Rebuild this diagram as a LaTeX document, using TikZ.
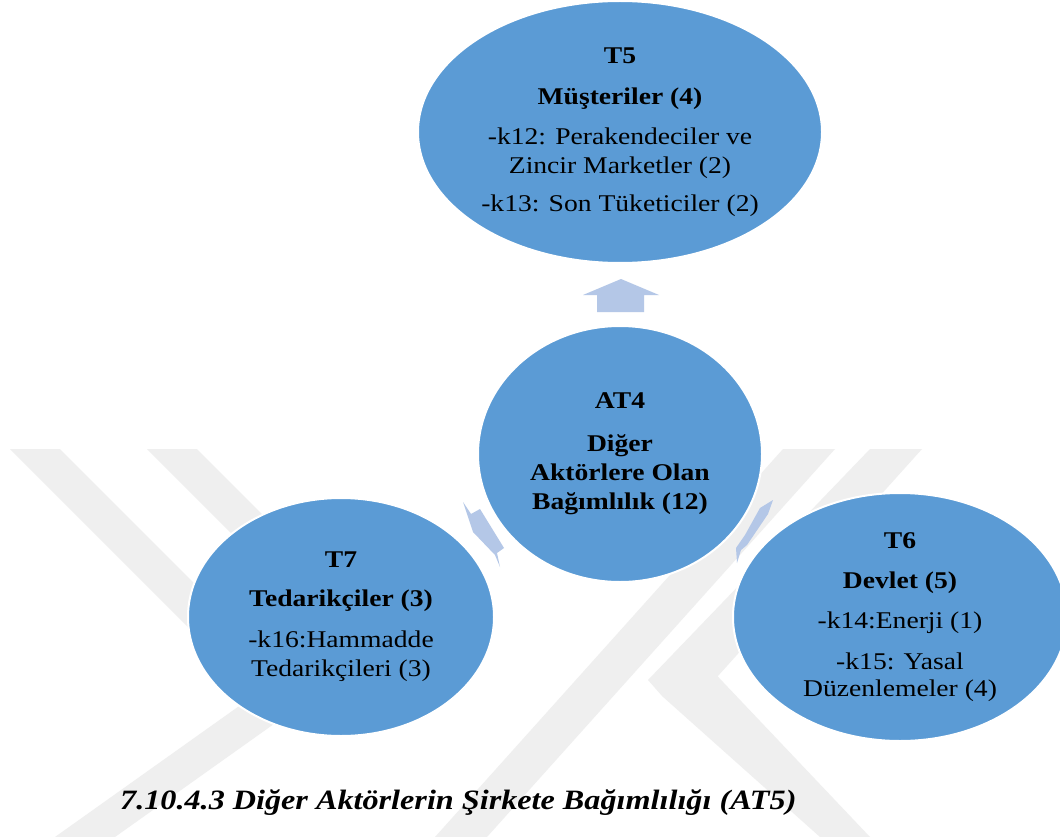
\documentclass[tikz,border=0pt]{standalone}
\usepackage{fontspec}
\setmainfont{Liberation Serif}[FakeStretch=1.15]
\usetikzlibrary{shapes.geometric}
\definecolor{bubblefill}{HTML}{5B9BD5}
\definecolor{arrowfill}{HTML}{B4C7E7}
\definecolor{markgray}{HTML}{EFEFEF}

\begin{document}
\begin{tikzpicture}[x=1pt,y=-1pt,
  bubble/.style={ellipse, fill=bubblefill, draw=white, line width=2pt, inner sep=0pt},
  bubbletext/.style={align=center, font=\fontsize{24}{29}\selectfont, text=black, inner sep=0pt},
  band/.style={fill=markgray},
  blockarrow/.style={fill=arrowfill}
]
\useasboundingbox[fill=white] (0,0) rectangle (1060,837);

% faint background emblem made of diagonal bands
\fill[band] (10,449) -- (60,449) -- (330,719) -- (280,719) -- cycle;
\fill[band] (147,449) -- (197,449) -- (425,677) -- (375,677) -- cycle;
\fill[band] (55,837) -- (115,837) -- (392,640) -- (332,640) -- cycle;
\fill[band] (783,449) -- (835,449) -- (487,837) -- (435,837) -- cycle;
\fill[band] (870,449) -- (922,449) -- (700,696) -- (662,696) -- (648,680) -- cycle;
\fill[band] (662,696) -- (700,696) -- (705,663) -- (870,837) -- (820,837) -- cycle;

% block arrows between the bubbles
\fill[blockarrow] (597,312) -- (644,312) -- (644,295) -- (659,295) -- (621,279)
  -- (583,295) -- (597,295) -- cycle;
\fill[blockarrow] (463,502) -- (471,514) -- (480,509) -- (504,548) -- (497,553)
  -- (500,567) -- (495,555) -- (473,532) -- cycle;
\fill[blockarrow] (773,500) -- (768,514) -- (747,545) -- (741,550) -- (737,563)
  -- (736,548) -- (745,535) -- (760,508) -- cycle;

% bubbles
\node[bubble, minimum width=404pt, minimum height=262pt] (t5) at (620,132) {};
\node[bubble, minimum width=284pt, minimum height=256pt] (at4) at (620,454) {};
\node[bubble, minimum width=306pt, minimum height=238pt] (t7) at (341,617) {};
\node[bubble, minimum width=334pt, minimum height=248pt] (t6) at (900,617) {};

% bubble texts
\node[bubbletext] (t5txt) at (t5) {\bfseries T5\\[12pt]
  \bfseries Müşteriler (4)\\[11pt]
  -k12: Perakendeciler ve\\
  Zincir Marketler (2)\\[9pt]
  -k13: Son Tüketiciler (2)};
\node[bubbletext] (at4txt) at (at4) {\bfseries AT4\\[14pt]
  \bfseries Diğer\\
  \bfseries Aktörlere Olan\\
  \bfseries Bağımlılık (12)};
\node[bubbletext] (t7txt) at (t7) {\bfseries T7\\[10pt]
  \bfseries Tedarikçiler (3)\\[12pt]
  -k16:Hammadde\\
  Tedarikçileri (3)};
\node[bubbletext] (t6txt) at (t6) {\bfseries T6\\[11pt]
  \bfseries Devlet (5)\\[11pt]
  -k14:Enerji (1)\\[12pt]
  -k15: Yasal\\[-2pt]
  Düzenlemeler (4)};

% section heading below the figure
\node[anchor=west, inner sep=0pt, font=\fontsize{28}{33}\selectfont\bfseries\itshape] (heading)
  at (120,803) {7.10.4.3 Diğer Aktörlerin Şirkete Bağımlılığı (AT5)};
\end{tikzpicture}
\end{document}
